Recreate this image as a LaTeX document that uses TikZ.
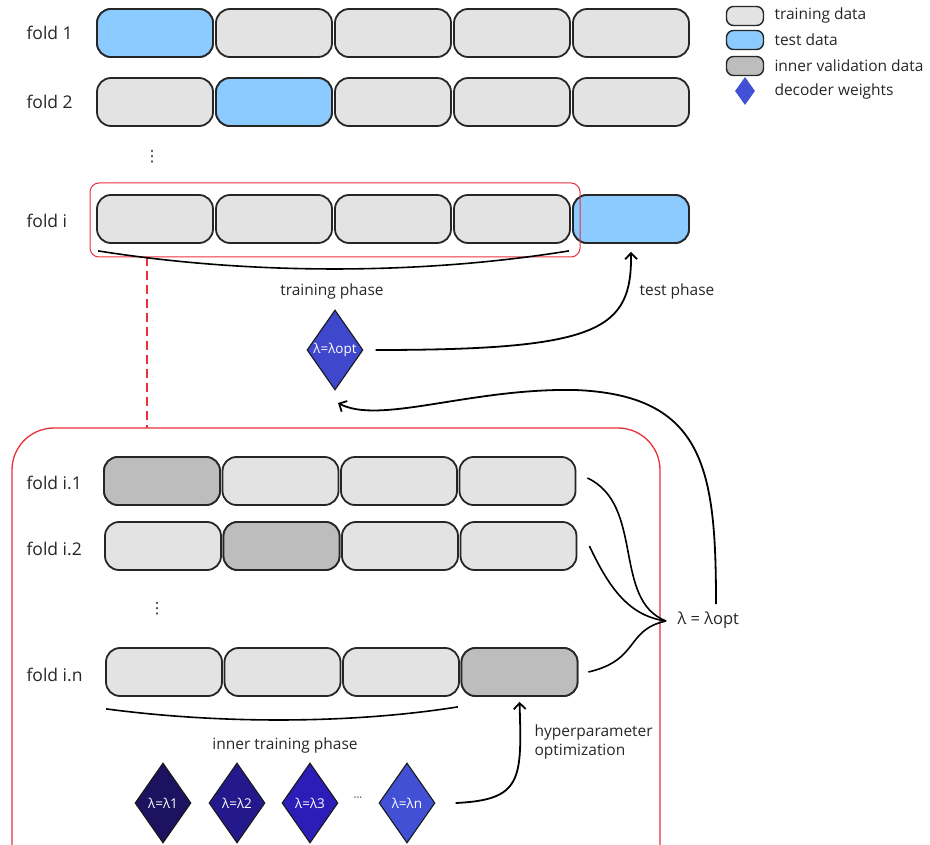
\documentclass[tikz,border=0pt]{standalone}
\usepackage{fontspec}
\setmainfont{Open Sans}
\newfontfamily\symfont{DejaVu Sans}
\usetikzlibrary{shapes.geometric,arrows.meta}

\definecolor{traincol}{HTML}{E3E3E3}
\definecolor{testcol}{HTML}{8CCBFF}
\definecolor{valcol}{HTML}{BDBDBD}
\definecolor{lamopt}{HTML}{3F47CC}
\definecolor{lamone}{HTML}{1C1260}
\definecolor{lamtwo}{HTML}{23198C}
\definecolor{lamthree}{HTML}{2D1DB8}
\definecolor{lamn}{HTML}{4150D4}
\definecolor{framered}{HTML}{E8303A}

\tikzset{
  foldbox/.style={draw=black!85, line width=1.8pt, rounded corners=14pt,
    minimum width=116pt, minimum height=48pt, inner sep=0pt, fill=traincol},
  keybox/.style={draw=black!85, line width=1.4pt, rounded corners=7pt,
    minimum width=37pt, minimum height=19pt, inner sep=0pt},
  weight/.style={diamond, draw=black!90, line width=1.1pt, inner sep=0pt,
    minimum width=56pt, minimum height=80pt, text=white, font=\fontsize{13.5}{15}\selectfont},
  lbl/.style={font=\fontsize{15.5}{19}\selectfont, text=black!85},
  foldlbl/.style={font=\fontsize{17.5}{20}\selectfont, text=black!85, anchor=west},
  arr/.style={line width=1.8pt, -{Straight Barb[length=6pt,width=12pt]}},
  crv/.style={line width=1.6pt}
}

\begin{document}
\begin{tikzpicture}[x=1pt,y=-1pt]
    \useasboundingbox (0,0) rectangle (930,845);
    \clip (0,0) rectangle (930,845);

    % outer folds
    \foreach \k in {1,...,5} {
        \node[foldbox] (fa-\k) at ({155+119*(\k-1)},33) {};
        \node[foldbox] (fb-\k) at ({155+119*(\k-1)},102) {};
        \node[foldbox] (fi-\k) at ({155+119*(\k-1)},219) {};
    }
    \node[foldbox,fill=testcol] at (fa-1) {};
    \node[foldbox,fill=testcol] at (fb-2) {};
    \node[foldbox,fill=testcol] at (fi-5) {};

    \node[foldlbl] (la) at (23,33) {fold 1};
    \node[foldlbl] (lb) at (23,102) {fold 2};
    \node[foldlbl] (li) at (23,221) {fold i};
    \node[lbl] (dots1) at (152,157) {\symfont ⋮};

    % training part of fold i
    \draw[framered, line width=1pt, rounded corners=9pt] (90,183) rectangle (580,257);
    \coordinate (dtop) at (147,257);
    \coordinate (dbot) at (147,428);
    \draw[framered, line width=1.3pt, dash pattern=on 9pt off 5pt] (dtop) -- (dbot);

    \draw[crv] ([xshift=2,yshift=-7]fi-1.south west) .. controls (250,275) and (420,275) .. ([xshift=-2,yshift=-7]fi-4.south east);
    \node[lbl] (trp) at (332,291) {training phase};
    \node[lbl] (tsp) at (677,291) {test phase};

    \node[weight,fill=lamopt] (opt) at (335,350) {\makebox[0pt]{λ=λopt}};
    \draw[arr] (opt.east) ++(12,0) .. controls (600,350) and (632,330) .. ([yshift=-8]fi-5.south);

    % inner loop
    \draw[framered, line width=1.3pt, rounded corners=42pt] (12,428) rectangle (660,900);

    \foreach \k in {1,...,4} {
        \node[foldbox] (ga-\k) at ({162+118.5*(\k-1)},481) {};
        \node[foldbox] (gb-\k) at ({163+118.5*(\k-1)},546) {};
        \node[foldbox] (gn-\k) at ({164+118.5*(\k-1)},672) {};
    }
    \node[foldbox,fill=valcol] at (ga-1) {};
    \node[foldbox,fill=valcol] at (gb-2) {};
    \node[foldbox,fill=valcol] at (gn-4) {};

    \node[foldlbl] (lga) at (23,483) {fold i.1};
    \node[foldlbl] (lgb) at (23,549) {fold i.2};
    \node[foldlbl] (lgn) at (23,675) {fold i.n};
    \node[lbl] (dots2) at (157,609) {\symfont ⋮};

    \draw[crv] ([xshift=1,yshift=-12]gn-1.south west) .. controls (220,724) and (350,724) .. ([xshift=-2,yshift=-10]gn-3.south east);
    \node[lbl] (itp) at (285,745) {inner training phase};

    \node[weight,fill=lamone] (l1) at (163,803) {\makebox[0pt]{λ=λ1}};
    \node[weight,fill=lamtwo] (l2) at (237,803) {\makebox[0pt]{λ=λ2}};
    \node[weight,fill=lamthree] (l3) at (310,803) {\makebox[0pt]{λ=λ3}};
    \node[lbl] (dots3) at (358,799) {\fontsize{11}{12}\selectfont ···};
    \node[weight,fill=lamn] (ln) at (407,803) {\makebox[0pt]{λ=λn}};

    \draw[arr] ([xshift=20]ln.east) .. controls (522,800) and (522,780) .. ([yshift=-5]gn-4.south);
    \node[lbl,anchor=west,align=left] (hyp) at (531,742) {hyperparameter\\optimization};

    % selection of lambda
    \node[lbl,anchor=west,font=\fontsize{16.5}{19}\selectfont] (lam) at (674,620) {λ = λopt};
    \coordinate (merge) at (666,621);
    \draw[crv] ([xshift=11,yshift=3]ga-4.east) .. controls (645,505) and (612,600) .. (merge);
    \draw[crv] ([xshift=12]gb-4.east) .. controls (610,590) and (630,616) .. (merge);
    \draw[crv] ([xshift=10]gn-4.east) .. controls (640,660) and (625,630) .. (merge);

    \coordinate (up) at (716,604);
    \coordinate (optin) at (338,403);
    \draw[arr] (up) .. controls (716,470) and (705,395) .. (575,390) .. controls (470,388) and (380,425) .. (optin);

    % legend
    \node[keybox,fill=traincol] (k1) at (745,16) {};
    \node[keybox,fill=testcol] (k2) at (745,40) {};
    \node[keybox,fill=valcol] (k3) at (745,66) {};
    \node[diamond,fill=lamn,minimum width=20pt,minimum height=28pt,inner sep=0pt] (k4) at (745,91) {};
    \node[lbl,anchor=west] at (771,15) {training data};
    \node[lbl,anchor=west] at (771,40) {test data};
    \node[lbl,anchor=west] at (771,66) {inner validation data};
    \node[lbl,anchor=west] at (771,91) {decoder weights};
\end{tikzpicture}
\end{document}
